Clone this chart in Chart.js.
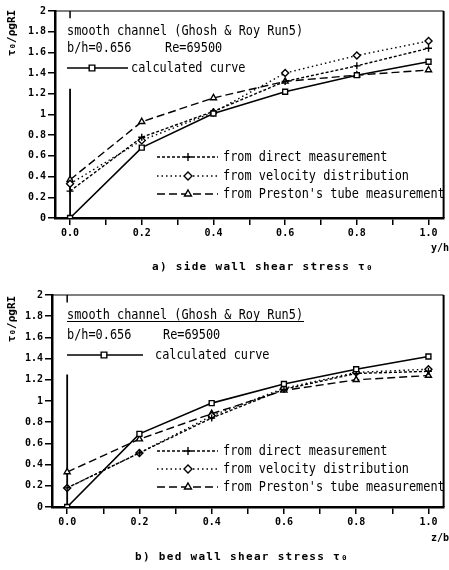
<!DOCTYPE html>
<html>
<head>
<meta charset="utf-8">
<script src="https://cdn.jsdelivr.net/npm/chart.js@4/dist/chart.umd.min.js"></script>
<style>
  body { margin: 0; background: #fff; }
  canvas { position: absolute; left: 0; }
  #side { top: 0; }
  #bed { top: 285px; }
</style>
</head>
<body>
<canvas id="side" width="449" height="285"></canvas>
<canvas id="bed" width="449" height="285"></canvas>
<script>
// positions along the wall
const xValues = [0, 0.2, 0.4, 0.6, 0.8, 1.0];

// a) side wall shear stress
const sideCalc     = [0, 0.68, 1.01, 1.22, 1.38, 1.51];
const sideDirect   = [0.26, 0.78, 1.03, 1.32, 1.47, 1.64];
const sideVelocity = [0.33, 0.75, 1.02, 1.40, 1.57, 1.71];
const sidePreston  = [0.37, 0.93, 1.16, 1.32, 1.38, 1.43];

// b) bed wall shear stress
const bedCalc     = [0, 0.69, 0.98, 1.16, 1.30, 1.42];
const bedDirect   = [0.18, 0.51, 0.84, 1.11, 1.26, 1.28];
const bedVelocity = [0.18, 0.51, 0.86, 1.12, 1.27, 1.30];
const bedPreston  = [0.33, 0.64, 0.88, 1.10, 1.20, 1.24];

// vertical line drawn at x = 0
const wallLineY = [0, 1.25];
const wallTickY = [1.93, 2];

const seriesNames = ['calculated curve', 'from direct measurement',
  'from velocity distribution', "from Preston's tube measurement"];

const xTicks = [0, 0.1, 0.2, 0.3, 0.4, 0.5, 0.6, 0.7, 0.8, 0.9, 1.0];
const xTickLabels = ['0.0', '', '0.2', '', '0.4', '', '0.6', '', '0.8', '', '1.0'];
const yTicks = [0, 0.2, 0.4, 0.6, 0.8, 1, 1.2, 1.4, 1.6, 1.8, 2];
const yTickLabels = ['0', '0.2', '0.4', '0.6', '0.8', '1', '1.2', '1.4', '1.6', '1.8', '2'];

const MONO = '"DejaVu Sans Mono", monospace';
const styles = [
  { pointStyle: 'rect', dash: [] },
  { pointStyle: 'cross', dash: [3, 2] },
  { pointStyle: 'rectRot', dash: [1.5, 3] },
  { pointStyle: 'triangle', dash: [8, 4] }
];

function pts(ys) {
  return ys.map((y, i) => ({ x: xValues[i], y: y }));
}

// condensed text helper
function txt(ctx, s, x, y, k) {
  ctx.save();
  ctx.translate(x, y);
  ctx.scale(k, 1);
  ctx.fillText(s, 0, 0);
  ctx.restore();
}

function marker(ctx, style, x, y) {
  ctx.save();
  ctx.setLineDash([]);
  ctx.fillStyle = '#fff';
  ctx.strokeStyle = '#000';
  ctx.lineWidth = 1.4;
  Chart.helpers.drawPoint(ctx, { pointStyle: style, radius: 4, borderWidth: 1.4, rotation: 0 }, x, y);
  ctx.restore();
}

function makeChart(id, series, L) {
  const datasets = series.map((ys, i) => ({
    label: seriesNames[i],
    data: pts(ys),
    borderColor: '#000',
    borderWidth: i === 0 ? 1.6 : 1.4,
    borderDash: styles[i].dash,
    pointStyle: styles[i].pointStyle,
    pointRadius: 3.5,
    pointBorderWidth: 1.4,
    pointBorderColor: '#000',
    pointBackgroundColor: '#fff',
    tension: 0
  }));
  datasets.push({
    data: wallLineY.map(y => ({ x: 0, y: y })),
    borderColor: '#000', borderWidth: 1.8, pointRadius: 0
  });
  datasets.push({
    data: wallTickY.map(y => ({ x: 0, y: y })),
    borderColor: '#000', borderWidth: 1.5, pointRadius: 0
  });

  const annot = {
    id: 'annot',
    afterDraw(chart) {
      const ctx = chart.ctx;
      const a = chart.chartArea;
      ctx.save();
      ctx.strokeStyle = '#000';
      ctx.lineWidth = 1.2;
      ctx.beginPath();
      ctx.moveTo(a.left, a.top);
      ctx.lineTo(a.right, a.top);
      ctx.stroke();
      ctx.lineWidth = 2;
      ctx.beginPath();
      ctx.moveTo(a.right, a.top);
      ctx.lineTo(a.right, a.bottom);
      ctx.stroke();

      ctx.fillStyle = '#000';
      ctx.textBaseline = 'middle';
      ctx.textAlign = 'left';
      ctx.font = '13.5px ' + MONO;
      const k = 0.88;
      txt(ctx, 'smooth channel (Ghosh & Roy Run5)', 67, L.rows[0], k);
      if (L.underline) {
        ctx.lineWidth = 1.2;
        ctx.beginPath();
        ctx.moveTo(67, L.rows[0] + 6.5);
        ctx.lineTo(304, L.rows[0] + 6.5);
        ctx.stroke();
      }
      txt(ctx, 'b/h=0.656', 67, L.rows[1], k);
      txt(ctx, 'Re=69500', L.reX, L.rows[1], k);

      // calculated curve legend
      ctx.lineWidth = 1.4;
      ctx.beginPath();
      ctx.moveTo(67, L.rows[2]);
      ctx.lineTo(L.calcLineEnd, L.rows[2]);
      ctx.stroke();
      marker(ctx, 'rect', L.calcMarker, L.rows[2]);
      txt(ctx, seriesNames[0], L.calcText, L.rows[2], k);

      // measured series legend
      for (let i = 1; i < 4; i++) {
        const y = L.low[i - 1];
        ctx.save();
        ctx.lineWidth = 1.3;
        ctx.setLineDash(styles[i].dash);
        ctx.beginPath();
        ctx.moveTo(157, y);
        ctx.lineTo(218, y);
        ctx.stroke();
        ctx.restore();
        marker(ctx, styles[i].pointStyle, 188, y);
        txt(ctx, seriesNames[i], 223, y, k);
      }

      // axis titles and caption
      ctx.font = 'bold 10px ' + MONO;
      ctx.textAlign = 'right';
      ctx.fillText(L.xTitle, 449, L.xTitleY);

      ctx.save();
      ctx.translate(12, L.yTitleY);
      ctx.rotate(-Math.PI / 2);
      ctx.textAlign = 'center';
      ctx.font = 'bold 11px ' + MONO;
      ctx.fillText('τ₀/ρgRI', 0, 0);
      ctx.restore();

      ctx.font = 'bold 11px ' + MONO;
      ctx.letterSpacing = '1.3px';
      ctx.textAlign = 'center';
      ctx.fillText(L.caption, L.capX, L.capY);
      ctx.restore();
    }
  };

  return new Chart(document.getElementById(id), {
    type: 'line',
    data: { datasets: datasets },
    options: {
      responsive: false,
      animation: false,
      devicePixelRatio: 1,
      layout: { padding: { top: L.top, right: 2, left: 0, bottom: 0 } },
      plugins: { legend: { display: false }, tooltip: { enabled: false } },
      scales: {
        x: {
          type: 'linear',
          min: -0.042,
          max: 1.042,
          afterBuildTicks: s => { s.ticks = xTicks.map(v => ({ value: v })); },
          afterFit: s => { s.height = 285 - L.bottom; },
          grid: { drawOnChartArea: false, tickLength: 7, color: '#000', lineWidth: 1.5 },
          border: { color: '#000', width: 2.5 },
          ticks: {
            autoSkip: false, maxRotation: 0, padding: 2, color: '#000',
            font: { family: MONO, size: 10, weight: 'bold' },
            callback: (v, i) => xTickLabels[i]
          }
        },
        y: {
          min: 0,
          max: 2,
          afterBuildTicks: s => { s.ticks = yTicks.map(v => ({ value: v })); },
          afterFit: s => { s.width = L.left; },
          grid: { drawOnChartArea: false, tickLength: 7, color: '#000', lineWidth: 1.5 },
          border: { color: '#000', width: 2.5 },
          ticks: {
            autoSkip: false, padding: 2, color: '#000',
            font: { family: MONO, size: 10, weight: 'bold' },
            callback: (v, i) => yTickLabels[i]
          }
        }
      }
    },
    plugins: [annot]
  });
}

makeChart('side', [sideCalc, sideDirect, sideVelocity, sidePreston], {
  left: 55, top: 11, bottom: 218,
  rows: [31, 48, 68], reX: 165, underline: false,
  calcLineEnd: 128, calcMarker: 92, calcText: 131,
  low: [157, 176, 194],
  xTitle: 'y/h', xTitleY: 248, yTitleY: 33,
  caption: 'a) side wall shear stress τ₀', capX: 263, capY: 267
});

makeChart('bed', [bedCalc, bedDirect, bedVelocity, bedPreston], {
  left: 52, top: 10, bottom: 222,
  rows: [30, 50, 70], reX: 163, underline: true,
  calcLineEnd: 143, calcMarker: 104, calcText: 155,
  low: [166, 184, 202],
  xTitle: 'z/b', xTitleY: 253, yTitleY: 34,
  caption: 'b) bed wall shear stress τ₀', capX: 242, capY: 272
});
</script>
</body>
</html>
